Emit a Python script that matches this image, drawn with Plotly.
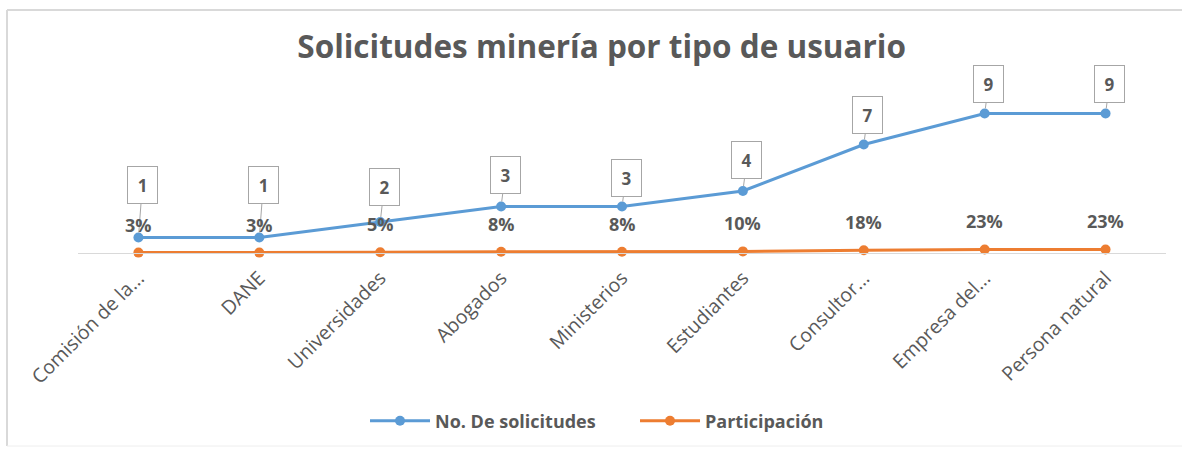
import plotly.graph_objects as go

categories = ["Comisión de la...", "DANE", "Universidades", "Abogados", "Ministerios",
              "Estudiantes", "Consultor...", "Empresa del...", "Persona natural"]
solicitudes = [1, 1, 2, 3, 3, 4, 7, 9, 9]
participacion = [0.026, 0.026, 0.051, 0.077, 0.077, 0.103, 0.179, 0.231, 0.231]
title_text = "Solicitudes minería por tipo de usuario"
series_names = ["No. De solicitudes", "Participación"]

BLUE = "#5B9BD5"
ORANGE = "#ED7D31"
GRAY = "#595959"
FONT = "Open Sans"

fig = go.Figure()
fig.add_trace(go.Scatter(
    x=categories, y=solicitudes, name=series_names[0], mode="lines+markers",
    line=dict(color=BLUE, width=3), marker=dict(color=BLUE, size=10),
    cliponaxis=False))
fig.add_trace(go.Scatter(
    x=categories, y=participacion, name=series_names[1], mode="lines+markers",
    line=dict(color=ORANGE, width=3), marker=dict(color=ORANGE, size=10),
    cliponaxis=False))

# callout offsets (pixels above the point) for the count labels
callout_offsets = [53, 53, 35, 32, 29, 31, 30, 30, 30]
annotations = []
for cat, val, off in zip(categories, solicitudes, callout_offsets):
    annotations.append(dict(
        x=cat, y=val, xref="x", yref="y", text=f"<b>{val}</b>",
        showarrow=True, arrowhead=0, arrowwidth=1, arrowcolor="#A6A6A6",
        ax=4, ay=-off, standoff=5,
        font=dict(family=FONT, size=17, color=GRAY),
        bgcolor="white", bordercolor="#A6A6A6", borderwidth=1, borderpad=2,
        width=25, height=32))
for cat, val in zip(categories, participacion):
    annotations.append(dict(
        x=cat, y=val, xref="x", yref="y", text=f"<b>{val:.0%}</b>",
        showarrow=False, yshift=28,
        font=dict(family=FONT, size=18, color=GRAY)))

fig.update_layout(
    width=1182, height=450,
    paper_bgcolor="white", plot_bgcolor="white",
    margin=dict(l=78, r=16, t=98, b=197, autoexpand=False),
    title=dict(text=f"<b>{title_text}</b>", x=0.509, xanchor="center",
               y=0.895, yanchor="middle",
               font=dict(family=FONT, size=31.5, color=GRAY)),
    xaxis=dict(showgrid=False, showline=True, linecolor="#D9D9D9", linewidth=1,
               tickangle=-45, ticks="", automargin=False,
               tickfont=dict(family=FONT, size=19.5, color=GRAY),
               range=[-0.5, len(categories) - 0.5], ticklabelstandoff=5),
    yaxis=dict(range=[0, 10], visible=False, showgrid=False, zeroline=False,
               automargin=False),
    showlegend=True,
    legend=dict(orientation="h", x=0.2638, xanchor="left", y=-1.084, yanchor="middle",
                font=dict(family=FONT, size=18, color=GRAY, weight="bold"), itemwidth=60,
                entrywidth=195, traceorder="normal"),
    annotations=annotations,
    shapes=[
        dict(type="line", xref="paper", yref="paper", x0=(7 - 78) / 1088, x1=1.1,
             y0=(253 - 10) / 155, y1=(253 - 10) / 155, line=dict(color="#D9D9D9", width=2)),
        dict(type="line", xref="paper", yref="paper", x0=(7 - 78) / 1088, x1=(7 - 78) / 1088,
             y0=(253 - 10) / 155, y1=(253 - 446) / 155, line=dict(color="#D9D9D9", width=2)),
        dict(type="line", xref="paper", yref="paper", x0=(7 - 78) / 1088, x1=1.1,
             y0=(253 - 446) / 155, y1=(253 - 446) / 155, line=dict(color="#EEEEEE", width=1)),
    ],
)

fig.write_html("out.html", config={"displayModeBar": False},
               post_script="document.body.style.margin='0';")
